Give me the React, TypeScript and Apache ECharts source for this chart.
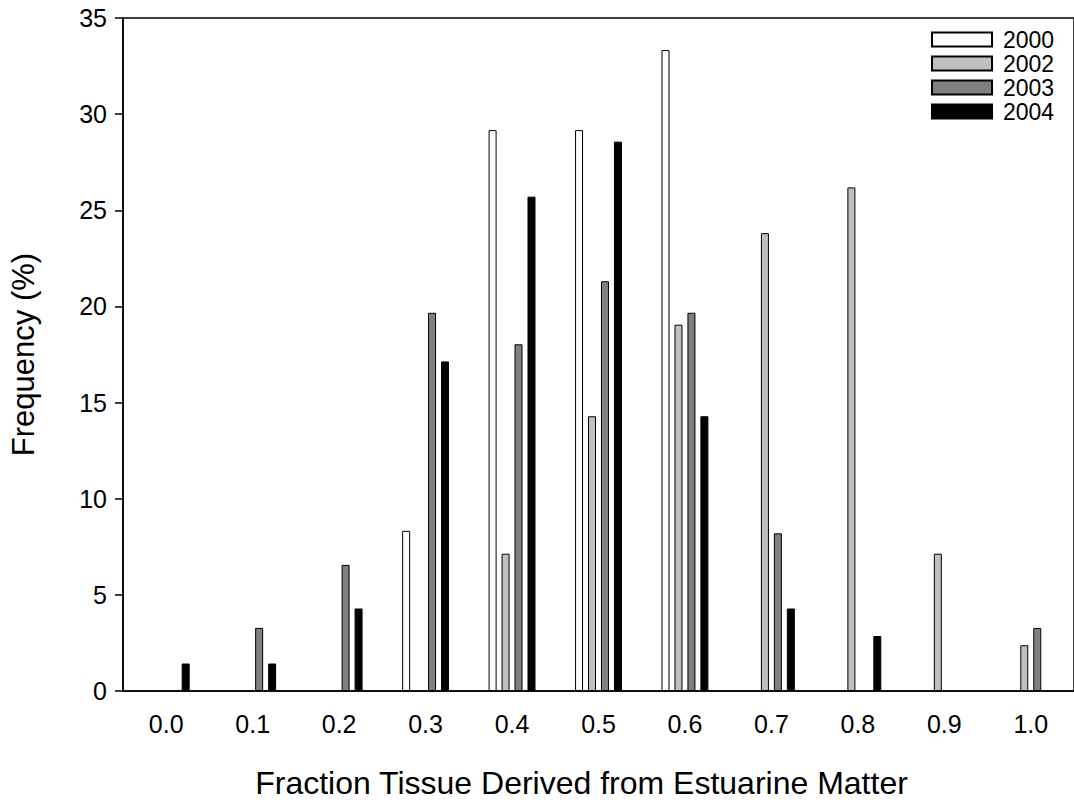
import { useEffect, useRef } from 'react';
import * as echarts from 'echarts';

const categories = ['0.0', '0.1', '0.2', '0.3', '0.4', '0.5', '0.6', '0.7', '0.8', '0.9', '1.0'];
const years = ['2000', '2002', '2003', '2004'];
const values2000 = [0, 0, 0, 8.33, 29.17, 29.17, 33.33, 0, 0, 0, 0];
const values2002 = [0, 0, 0, 0, 7.14, 14.29, 19.05, 23.81, 26.19, 7.14, 2.38];
const values2003 = [0, 3.28, 6.56, 19.67, 18.03, 21.31, 19.67, 8.2, 0, 0, 3.28];
const values2004 = [1.43, 1.43, 4.29, 17.14, 25.71, 28.57, 14.29, 4.29, 2.86, 0, 0];
const colors = ['#ffffff', '#c0c0c0', '#808080', '#000000'];

const App = () => {
  const chartRef = useRef<HTMLDivElement>(null);

  useEffect(() => {
    if (!chartRef.current) return;
    const myChart = echarts.init(chartRef.current, null, { renderer: 'svg' });
    const font = 'Arial, "Liberation Sans", sans-serif';
    const all = [values2000, values2002, values2003, values2004];

    const option = {
      animation: false,
      textStyle: { fontFamily: font },
      grid: {
        left: 121,
        right: -7,
        top: 18,
        bottom: 107,
        show: true,
        borderColor: '#000',
        borderWidth: 1.5,
        backgroundColor: 'transparent'
      },
      legend: {
        orient: 'vertical',
        left: 926,
        top: 23,
        itemWidth: 60,
        itemHeight: 14,
        itemGap: 1,
        icon: 'rect',
        data: years,
        textStyle: { fontSize: 23, color: '#000', fontFamily: font, padding: [0, 0, 0, 6] }
      },
      xAxis: {
        type: 'category',
        data: categories,
        boundaryGap: true,
        name: 'Fraction Tissue Derived from Estuarine Matter',
        nameLocation: 'middle',
        nameGap: 76,
        nameTextStyle: { fontSize: 32, color: '#000', fontFamily: font, padding: [0, 0, 0, -34] },
        axisLine: { lineStyle: { color: '#000', width: 1.5 } },
        axisTick: { alignWithLabel: true, length: 8, lineStyle: { color: '#000', width: 1.5 } },
        axisLabel: { fontSize: 25, color: '#000', margin: 20 },
        splitLine: { show: false }
      },
      yAxis: {
        type: 'value',
        min: 0,
        max: 35,
        interval: 5,
        name: 'Frequency (%)',
        nameLocation: 'middle',
        nameGap: 84,
        nameTextStyle: { fontSize: 31, color: '#000', fontFamily: font },
        axisLine: { show: true, lineStyle: { color: '#000', width: 1.5 } },
        axisTick: { show: true, length: 8, lineStyle: { color: '#000', width: 1.5 } },
        axisLabel: { fontSize: 25, color: '#000', margin: 16 },
        splitLine: { show: false }
      },
      series: years.map((y, i) => ({
        name: y,
        type: 'bar',
        data: all[i].map(v => (v === 0 ? null : v)),
        barWidth: 8,
        barGap: '62%',
        itemStyle: { color: colors[i], borderColor: '#000', borderWidth: 1 }
      }))
    };

    myChart.setOption(option);
    return () => {
      myChart.dispose();
    };
  }, []);

  return (
    <div style={{ position: 'absolute', left: 0, top: 0, width: 1074, height: 804, overflow: 'hidden' }}>
      <div ref={chartRef} style={{ width: 1074, height: 804 }} />
    </div>
  );
};

export default App;
